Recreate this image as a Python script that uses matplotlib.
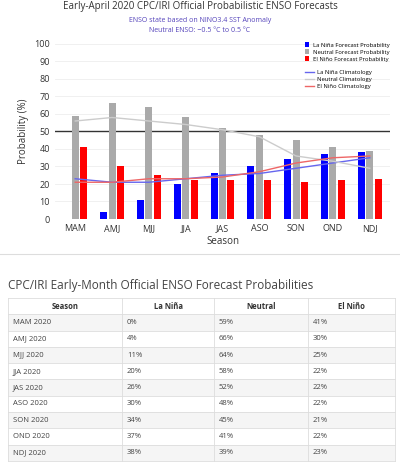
import matplotlib
matplotlib.use("Agg")
import matplotlib.pyplot as plt
import numpy as np

plt.rcParams['font.family'] = ['Open Sans', 'DejaVu Sans']

seasons = ["MAM", "AMJ", "MJJ", "JJA", "JAS", "ASO", "SON", "OND", "NDJ"]
lanina = [0, 4, 11, 20, 26, 30, 34, 37, 38]
neutral = [59, 66, 64, 58, 52, 48, 45, 41, 39]
elnino = [41, 30, 25, 22, 22, 22, 21, 22, 23]
clim_lanina = [23, 21, 21, 23, 25, 26, 29, 32, 35]
clim_neutral = [56, 58, 56, 54, 51, 47, 36, 33, 29]
clim_elnino = [21, 21, 23, 23, 24, 27, 32, 35, 36]
table_year = "2020"

W, H = 400, 469
fig = plt.figure(figsize=(4, 4.69), dpi=100)

def px(x0, y0, x1, y1):
    return [x0 / W, 1 - y1 / H, (x1 - x0) / W, (y1 - y0) / H]

ax = fig.add_axes(px(55, 44, 390, 219))
x = np.arange(len(seasons))
bw = 0.19
b1 = ax.bar(x - 0.23, lanina, bw, color='#0000ff', label='La Niña Forecast Probability', zorder=3)
b2 = ax.bar(x, neutral, bw, color='#aaaaaa', label='Neutral Forecast Probability', zorder=3)
b3 = ax.bar(x + 0.23, elnino, bw, color='#ff0000', label='El Niño Forecast Probability', zorder=3)
l1, = ax.plot(x, clim_lanina, color='#6666ee', lw=1, label='La Niña Climatology', zorder=4)
l2, = ax.plot(x, clim_neutral, color='#cccccc', lw=1, label='Neutral Climatology', zorder=4)
l3, = ax.plot(x, clim_elnino, color='#ee6666', lw=1, label='El Niño Climatology', zorder=4)
ax.axhline(50, color='#333333', lw=1, zorder=2)
ax.set_ylim(0, 100)
ax.set_xlim(-0.55, len(seasons) - 0.45)
ax.set_yticks(range(0, 101, 10))
ax.set_xticks(x)
ax.set_xticklabels(seasons)
ax.tick_params(labelsize=6.5, length=0, colors='#333333')
ax.grid(axis='y', color='#eeeeee', lw=0.6, zorder=0)
for s in ax.spines.values():
    s.set_visible(False)
ax.set_ylabel('Probability (%)', fontsize=7, color='#333333')
ax.set_xlabel('Season', fontsize=7, color='#333333', labelpad=2)
leg1 = ax.legend([b1, b2, b3], [b.get_label() for b in (b1, b2, b3)], loc='upper left',
                 bbox_to_anchor=(0.73, 1.04), fontsize=4.2, frameon=False,
                 handlelength=0.8, handleheight=0.8, labelspacing=0.3, handletextpad=0.6)
ax.add_artist(leg1)
ax.legend([l1, l2, l3], [l.get_label() for l in (l1, l2, l3)], loc='upper left',
          bbox_to_anchor=(0.73, 0.88), fontsize=4.2, frameon=False,
          handlelength=1.5, labelspacing=0.3, handletextpad=0.6)

fig.text(0.5, 1 - 7 / H, 'Early-April 2020 CPC/IRI Official Probabilistic ENSO Forecasts',
         ha='center', va='center', fontsize=7, color='#333333')
fig.text(0.5, 1 - 21 / H, 'ENSO state based on NINO3.4 SST Anomaly', ha='center', va='center',
         fontsize=5, color='#5544bb')
fig.text(0.5, 1 - 31 / H, 'Neutral ENSO: \u22120.5 \u00b0C to 0.5 \u00b0C', ha='center', va='center',
         fontsize=5, color='#5544bb')

# table
tax = fig.add_axes([0, 0, 1, 1])
tax.set_xlim(0, W)
tax.set_ylim(H, 0)
tax.axis('off')
tax.plot([0, W], [254, 254], color='#dddddd', lw=0.8)
tax.text(8, 285, 'CPC/IRI Early-Month Official ENSO Forecast Probabilities', fontsize=8.5,
         color='#444444', va='center')
cols = [8, 122, 214, 308, 395]
top, rh = 298, 16.3
nrows = len(seasons) + 1
for i in range(nrows):
    y0 = top + i * rh
    if i >= 1 and i % 2 == 1:
        tax.fill_between([cols[0], cols[-1]], y0, y0 + rh, color='#f5f5f5', lw=0)
    tax.plot([cols[0], cols[-1]], [y0, y0], color='#dddddd', lw=0.6)
tax.plot([cols[0], cols[-1]], [top + nrows * rh] * 2, color='#dddddd', lw=0.6)
for c in cols:
    tax.plot([c, c], [top, top + nrows * rh], color='#dddddd', lw=0.6)
heads = ['Season', 'La Niña', 'Neutral', 'El Niño']
for j, hd in enumerate(heads):
    tax.text((cols[j] + cols[j + 1]) / 2, top + rh / 2, hd, ha='center', va='center',
             fontsize=5.5, fontweight='bold', color='#333333')
for i, s in enumerate(seasons):
    yc = top + (i + 1.5) * rh
    vals = [f'{s} {table_year}', f'{lanina[i]}%', f'{neutral[i]}%', f'{elnino[i]}%']
    for j, v in enumerate(vals):
        tax.text(cols[j] + 5, yc, v, ha='left', va='center', fontsize=5.5, color='#444444')

fig.savefig('out.png', dpi=100, facecolor='white')
